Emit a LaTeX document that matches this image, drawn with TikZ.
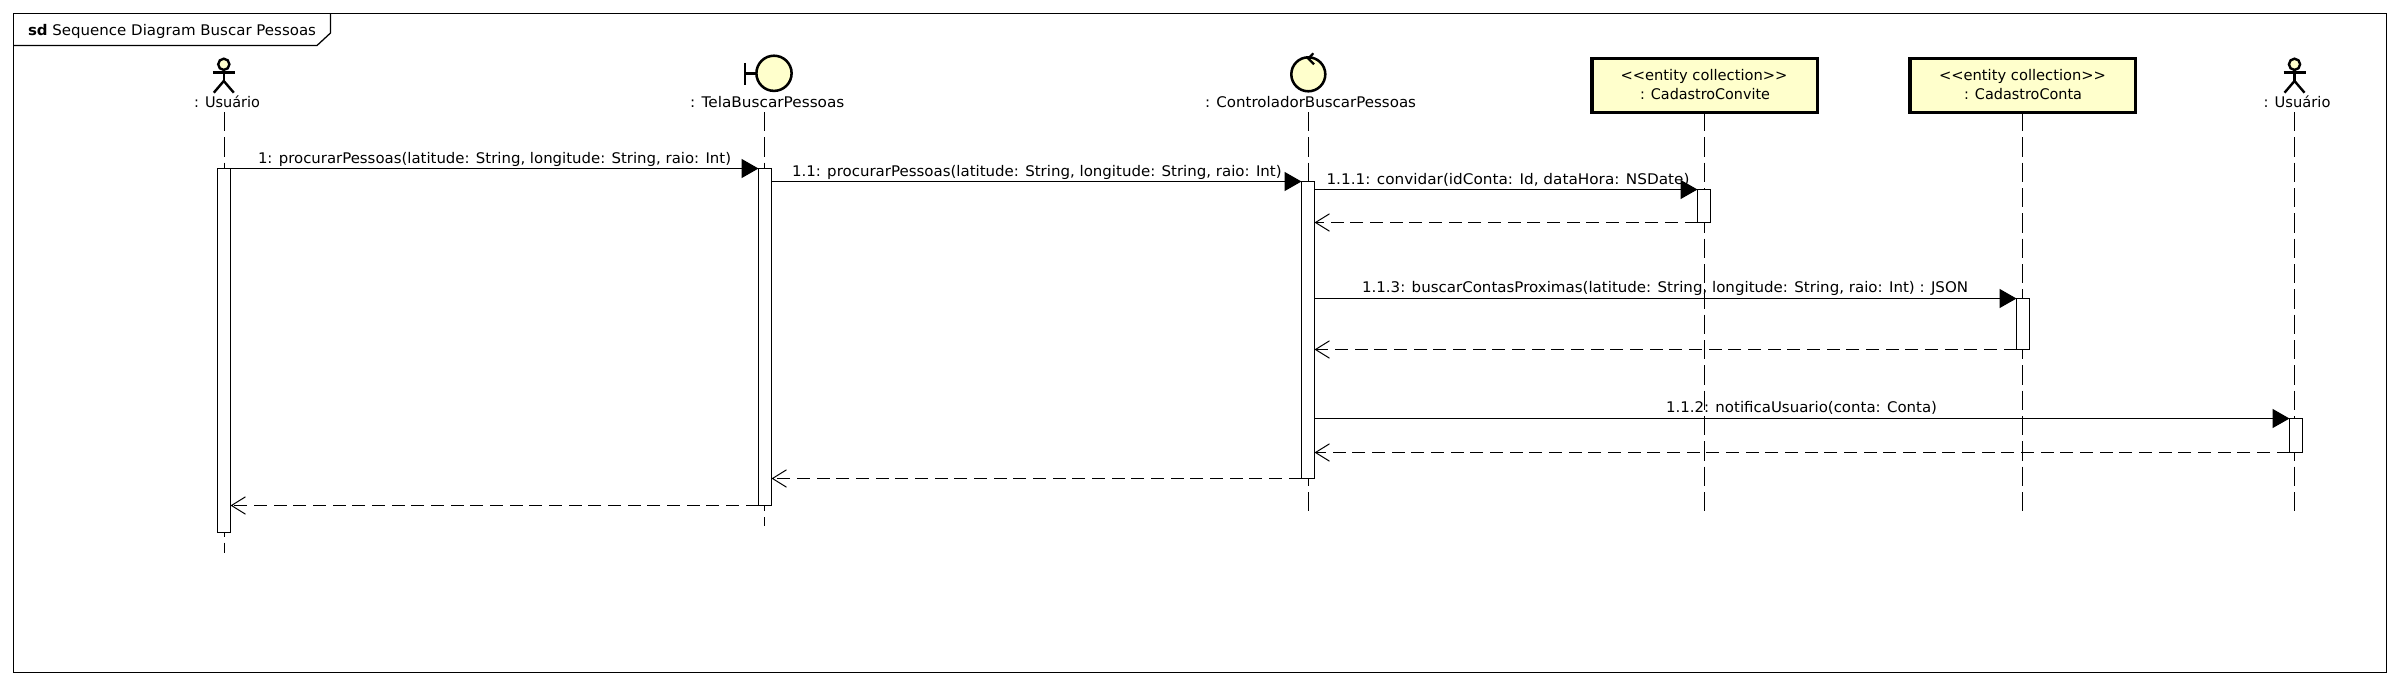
\documentclass[tikz,border=0pt]{standalone}
\usepackage{fontspec}
\usepackage{graphicx}
\setmainfont{DejaVu Sans}
\usetikzlibrary{arrows.meta}
\newdimen\pxu \pxu=0.75pt
\definecolor{umlfill}{HTML}{FFFFCC}
\tikzset{
  framebox/.style={draw=black,line width=0.95pt},
  lifeline/.style={draw=black,line width=0.75pt,dash pattern=on 14.5pt off 4.5pt},
  actbar/.style={draw=black,fill=white,line width=0.8pt,inner sep=0pt,outer sep=0pt,anchor=north west},
  callmsg/.style={draw=black,line width=1.1pt,-{Triangle[length=12.75pt,width=14.25pt]}},
  replymsg/.style={draw=black,line width=0.95pt,dash pattern=on 9.75pt off 5pt,-{Straight Barb[length=10.5pt,width=13pt,line width=0.75pt]}},
  umlshape/.style={draw=black,fill=umlfill,line width=1.9pt},
  stick/.style={draw=black,line width=1.8pt},
  entity/.style={draw=black,fill=umlfill,line width=2.3pt,inner sep=0pt,outer sep=0pt,anchor=north west},
  textlbl/.style={anchor=base west,inner sep=0pt,outer sep=0pt,text=black,font=\fontsize{11pt}{13pt}\selectfont},
}
% name, x, baseline y, width (all px), text
\newcommand{\seqlabel}[5]{\node[textlbl] (#1) at (#2,#3) {\resizebox{#4\pxu}{\height}{#5}};}
% name, x1, y1, x2, y2
\newcommand{\seqbar}[5]{\node[actbar,minimum width={(#4-#2)*0.75pt},minimum height={(#5-#3)*0.75pt}] (#1) at (#2,#3) {};}
\newcommand{\seqentity}[5]{\node[entity,minimum width={(#4-#2)*0.75pt},minimum height={(#5-#3)*0.75pt}] (#1) at (#2,#3) {};}
\newcommand{\seqactor}[1]{%
  \draw[stick,fill=umlfill] (#1,64.3) circle[radius=5.6];
  \draw[stick] (#1-11,72.7) -- (#1+11,72.7);
  \draw[stick] (#1,70) -- (#1,81);
  \draw[stick] (#1-10,92.7) -- (#1,81) -- (#1+10,92.7);}
\begin{document}
\begin{tikzpicture}[x=0.75pt,y=-0.75pt]
\useasboundingbox (0,0) rectangle (2401,685);
\fill[white] (0,0) rectangle (2401,685);
% frame
\draw[framebox] (13.5,13.5) rectangle (2386.5,672.5);
\draw[framebox] (13.5,45.5) -- (317,45.5) -- (330.5,33) -- (330.5,13.5);
\seqlabel{title}{28}{35.7}{288}{\textbf{sd} Sequence Diagram Buscar Pessoas}
% lifeline ends
\coordinate (l1a) at (224.5,112); \coordinate (l1b) at (224.5,553);
\coordinate (l2a) at (764.5,112);   \coordinate (l2b) at (764.5,526);
\coordinate (l3a) at (1308.5,112);  \coordinate (l3b) at (1308.5,512);
\coordinate (l4a) at (1704.5,112);\coordinate (l4b) at (1704.5,512);
\coordinate (l5a) at (2022.5,112);\coordinate (l5b) at (2022.5,512);
\coordinate (l6a) at (2294.5,112);\coordinate (l6b) at (2294.5,512);
\foreach \n in {1,...,6} \draw[lifeline] (l\n a) -- (l\n b);
% participants
\seqactor{223.8}
\seqactor{2294.5}
\draw[stick] (744.7,63) -- (744.7,85);
\draw[stick] (744.7,73.5) -- (757,73.5);
\draw[umlshape] (774,73.3) circle[radius=17.6];
\draw[umlshape] (1308.3,74.3) circle[radius=17];
\draw[line width=1.7pt] (1313.3,53.3) -- (1308.3,58.5) -- (1314,64.3);
\seqentity{e1}{1592}{58.7}{1817.5}{112.3}
\seqentity{e2}{1910}{58.7}{2135.5}{112.3}
\seqlabel{pa}{194}{107.7}{66}{: Usuário}
\seqlabel{pb}{690}{107.7}{154.4}{: TelaBuscarPessoas}
\seqlabel{pc}{1205}{107.7}{211}{: ControladorBuscarPessoas}
\seqlabel{pd}{2263.5}{107.7}{67}{: Usuário}
\seqlabel{s1}{1620.5}{80.5}{167}{<{}<entity collection>{}>}
\seqlabel{n1}{1640}{99}{130}{: CadastroConvite}
\seqlabel{s2}{1939}{80.5}{167}{<{}<entity collection>{}>}
\seqlabel{n2}{1964}{99}{118}{: CadastroConta}
% activations
\seqbar{a1}{217.5}{168.5}{230.5}{532.5}
\seqbar{a2}{758.5}{168.5}{771.5}{505.5}
\seqbar{a3}{1301.5}{181.5}{1314.5}{478.5}
\seqbar{a4}{1697.5}{189.5}{1710.5}{222.5}
\seqbar{a5}{2016.5}{298.5}{2029.5}{349.5}
\seqbar{a6}{2289.5}{418.5}{2302.5}{452.5}
% messages
\draw[callmsg] (a1.north east) -- (a2.north west);
\draw[callmsg] (a2.east |- a3.north) -- (a3.north west);
\draw[callmsg] (a3.east |- a4.north) -- (a4.north west);
\draw[replymsg] (a4.south west) -- (a3.east |- a4.south);
\draw[callmsg] (a3.east |- a5.north) -- (a5.north west);
\draw[replymsg] (a5.south west) -- (a3.east |- a5.south);
\draw[callmsg] (a3.east |- a6.north) -- (a6.north west);
\draw[replymsg] (a6.south west) -- (a3.east |- a6.south);
\draw[replymsg] (a3.south west) -- (a2.east |- a3.south);
\draw[replymsg] (a2.south west) -- (a1.east |- a2.south);
% message labels
\seqlabel{m1}{258}{163}{473}{1: procurarPessoas(latitude: String, longitude: String, raio: Int)}
\seqlabel{m2}{792}{176}{489.6}{1.1: procurarPessoas(latitude: String, longitude: String, raio: Int)}
\seqlabel{m3}{1326.5}{184}{363}{1.1.1: convidar(idConta: Id, dataHora: NSDate)}
\seqlabel{m4}{1362}{292.7}{606}{1.1.3: buscarContasProximas(latitude: String, longitude: String, raio: Int) : JSON}
\seqlabel{m5}{1666}{412.7}{271}{1.1.2: notificaUsuario(conta: Conta)}
\end{tikzpicture}
\end{document}
